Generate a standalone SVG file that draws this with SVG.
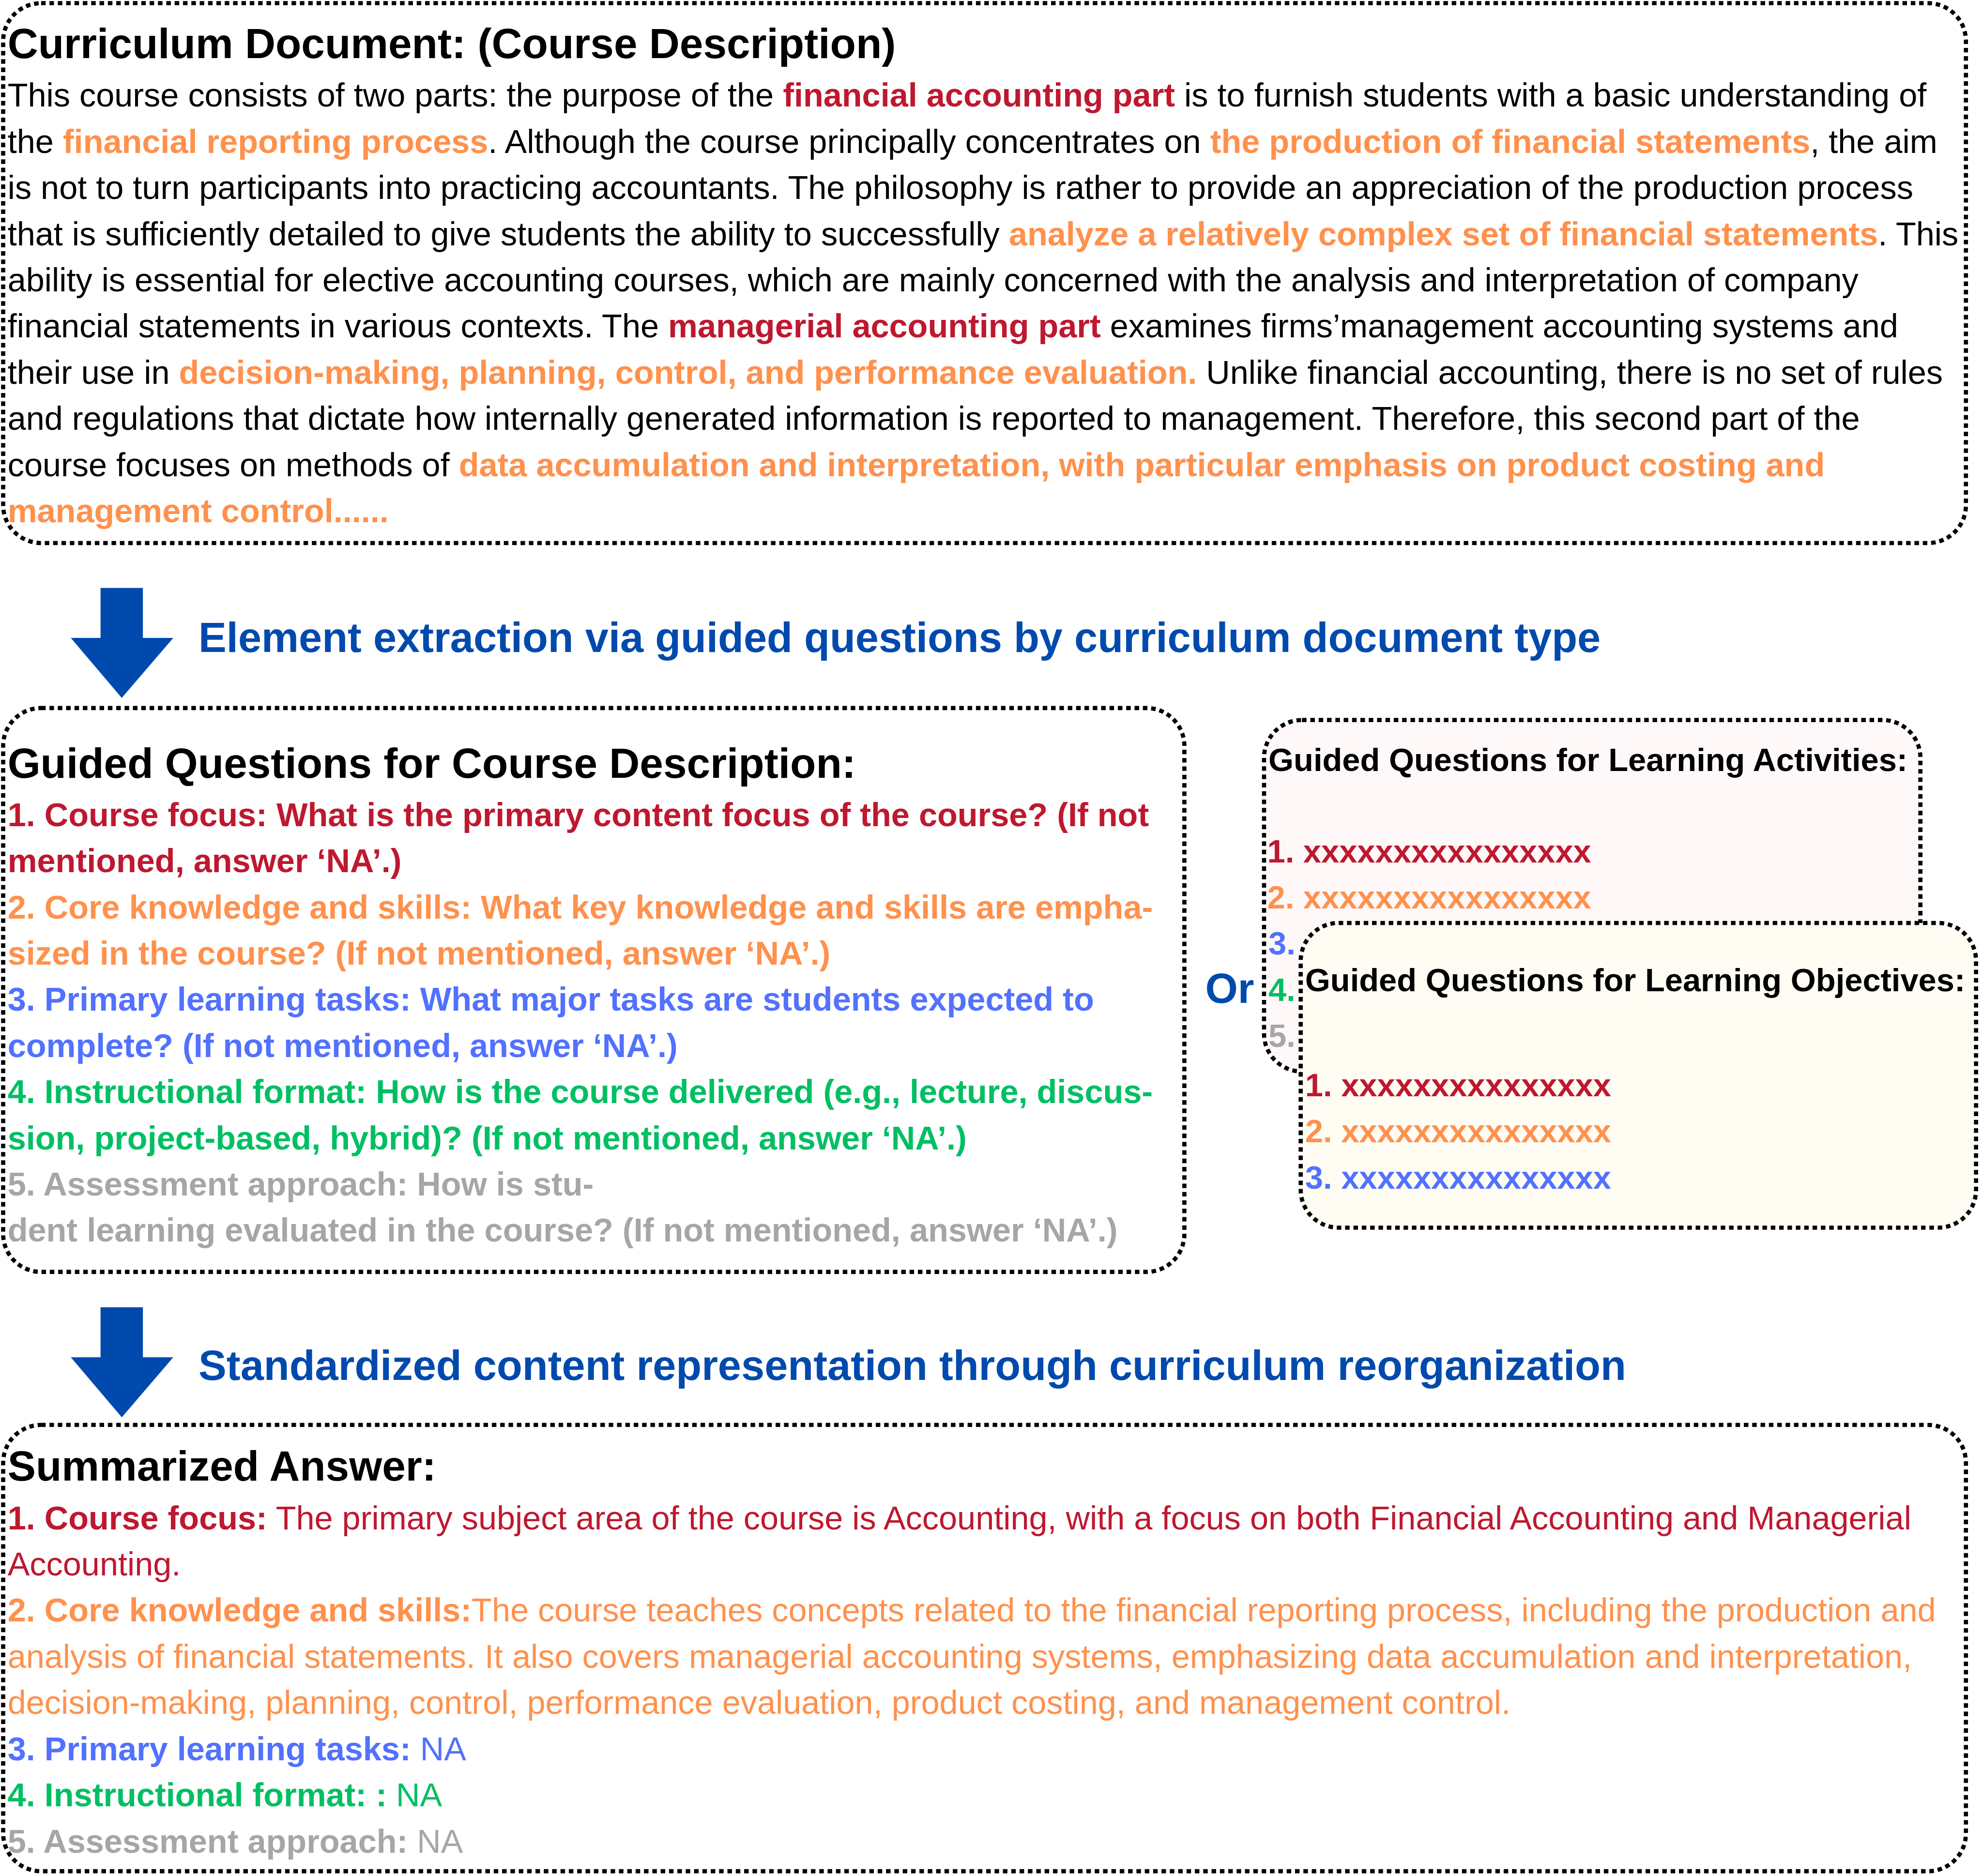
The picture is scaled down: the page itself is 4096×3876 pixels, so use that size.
<svg xmlns="http://www.w3.org/2000/svg" width="4096" height="3876" viewBox="0 0 4096 3876">
<style>
.box{fill:none;stroke:#000;stroke-width:3.3;stroke-dasharray:3.6 3;}
text{font-family:'Liberation Sans',Arial,Helvetica,sans-serif;font-size:26.2px;fill:#000;}
.h{font-size:33.45px;font-weight:bold;}
.hd{font-size:33.15px;font-weight:bold;fill:#004AAD;}
.s{font-size:25.6px;font-weight:bold;}
.b{font-weight:bold;}
.red{fill:#BE1830;}
.org{fill:#FF914D;}
.blu{fill:#5271FF;}
.grn{fill:#00BF63;}
.gry{fill:#A6A6A6;}
.arrow{fill:#004AAD;}
</style>
<defs>
<path id="arrowShape" d="M79.5,0 H113 V39.5 H137 L96.3,87 L56,39.5 H79.5 Z"/>
</defs>
<rect x="0" y="0" width="4096" height="3876" fill="#fff"/>
<g transform="scale(2.612245)">

<g id="curriculum-document">
<rect class="box" x="2.5" y="2.5" width="1552" height="427" rx="30"/>
<text class="h" x="6" y="46">Curriculum Document: (Course Description)</text>
<text x="6" y="84.4">This course consists of two parts: the purpose of the <tspan class="b red">financial accounting part</tspan> is to furnish students with a basic understanding of</text>
<text x="6" y="121">the <tspan class="b org">financial reporting process</tspan>. Although the course principally concentrates on <tspan class="b org">the production of financial statements</tspan>, the aim</text>
<text x="6" y="157.5">is not to turn participants into practicing accountants. The philosophy is rather to provide an appreciation of the production process</text>
<text x="6" y="194">that is sufficiently detailed to give students the ability to successfully <tspan class="b org">analyze a relatively complex set of financial statements</tspan>. This</text>
<text x="6" y="230.5">ability is essential for elective accounting courses, which are mainly concerned with the analysis and interpretation of company</text>
<text x="6" y="267">financial statements in various contexts. The <tspan class="b red">managerial accounting part</tspan> examines firms’management accounting systems and</text>
<text x="6" y="303.5">their use in <tspan class="b org">decision-making, planning, control, and performance evaluation.</tspan> Unlike financial accounting, there is no set of rules</text>
<text x="6" y="340">and regulations that dictate how internally generated information is reported to management. Therefore, this second part of the</text>
<text x="6" y="376.5">course focuses on methods of <tspan class="b org">data accumulation and interpretation, with particular emphasis on product costing and</tspan></text>
<text x="6" y="413" class="b org">management control......</text>
</g>

<g id="connectors">
<use href="#arrowShape" class="arrow" transform="translate(0,465)"/>
<use href="#arrowShape" class="arrow" transform="translate(0,1034)"/>
</g>

<g id="label-extraction">
<text class="hd" x="157" y="515.5">Element extraction via guided questions by curriculum document type</text>
</g>

<g id="guided-course-description">
<rect class="box" x="2.5" y="560" width="934" height="446" rx="30"/>
<text class="h" x="6" y="615">Guided Questions for Course Description:</text>
<text class="b red" x="6" y="653.5">1. Course focus: What is the primary content focus of the course? (If not</text>
<text class="b red" x="6" y="690">mentioned, answer ‘NA’.)</text>
<text class="b org" x="6" y="726.5">2. Core knowledge and skills: What key knowledge and skills are empha-</text>
<text class="b org" x="6" y="763">sized in the course? (If not mentioned, answer ‘NA’.)</text>
<text class="b blu" x="6" y="799.5">3. Primary learning tasks: What major tasks are students expected to</text>
<text class="b blu" x="6" y="836">complete? (If not mentioned, answer ‘NA’.)</text>
<text class="b grn" x="6" y="872.5">4. Instructional format: How is the course delivered (e.g., lecture, discus-</text>
<text class="b grn" x="6" y="909">sion, project-based, hybrid)? (If not mentioned, answer ‘NA’.)</text>
<text class="b gry" x="6" y="945.5">5. Assessment approach: How is stu-</text>
<text class="b gry" x="6" y="982">dent learning evaluated in the course? (If not mentioned, answer ‘NA’.)</text>
</g>

<g id="or-label">
<text class="hd" x="953" y="793">Or</text>
</g>

<g id="guided-learning-activities">
<rect class="box" x="999.5" y="569.5" width="519" height="278" rx="30" style="fill:#FFF8F8"/>
<text class="s" x="1003" y="610">Guided Questions for Learning Activities:</text>
<text class="s red" x="1002" y="682">1. xxxxxxxxxxxxxxxx</text>
<text class="s org" x="1002" y="718.5">2. xxxxxxxxxxxxxxxx</text>
<text class="s blu" x="1003" y="755">3.</text>
<text class="s grn" x="1003" y="791.5">4.</text>
<text class="s gry" x="1003" y="828">5.</text>
</g>

<g id="guided-learning-objectives">
<rect class="box" x="1028.5" y="730" width="534" height="241" rx="30" style="fill:#FFFCF4"/>
<text class="s" x="1032" y="784">Guided Questions for Learning Objectives:</text>
<text class="s red" x="1032" y="867">1. xxxxxxxxxxxxxxx</text>
<text class="s org" x="1032" y="903.5">2. xxxxxxxxxxxxxxx</text>
<text class="s blu" x="1032" y="940">3. xxxxxxxxxxxxxxx</text>
</g>

<g id="label-reorganization">
<text class="hd" x="157" y="1091.5">Standardized content representation through curriculum reorganization</text>
</g>

<g id="summarized-answer">
<rect class="box" x="2.5" y="1127" width="1552" height="353" rx="30"/>
<text class="h" x="6" y="1171">Summarized Answer:</text>
<text class="red" x="6" y="1209.6"><tspan class="b">1. Course focus:</tspan> The primary subject area of the course is Accounting, with a focus on both Financial Accounting and Managerial</text>
<text class="red" x="6" y="1246.1">Accounting.</text>
<text class="org" x="6" y="1282.6"><tspan class="b">2. Core knowledge and skills:</tspan>The course teaches concepts related to the financial reporting process, including the production and</text>
<text class="org" x="6" y="1319.2">analysis of financial statements. It also covers managerial accounting systems, emphasizing data accumulation and interpretation,</text>
<text class="org" x="6" y="1355.7">decision-making, planning, control, performance evaluation, product costing, and management control.</text>
<text class="blu" x="6" y="1392.3"><tspan class="b">3. Primary learning tasks:</tspan> NA</text>
<text class="grn" x="6" y="1428.8"><tspan class="b">4. Instructional format: :</tspan> NA</text>
<text class="gry" x="6" y="1465.4"><tspan class="b">5. Assessment approach:</tspan> NA</text>
</g>

</g>
</svg>
